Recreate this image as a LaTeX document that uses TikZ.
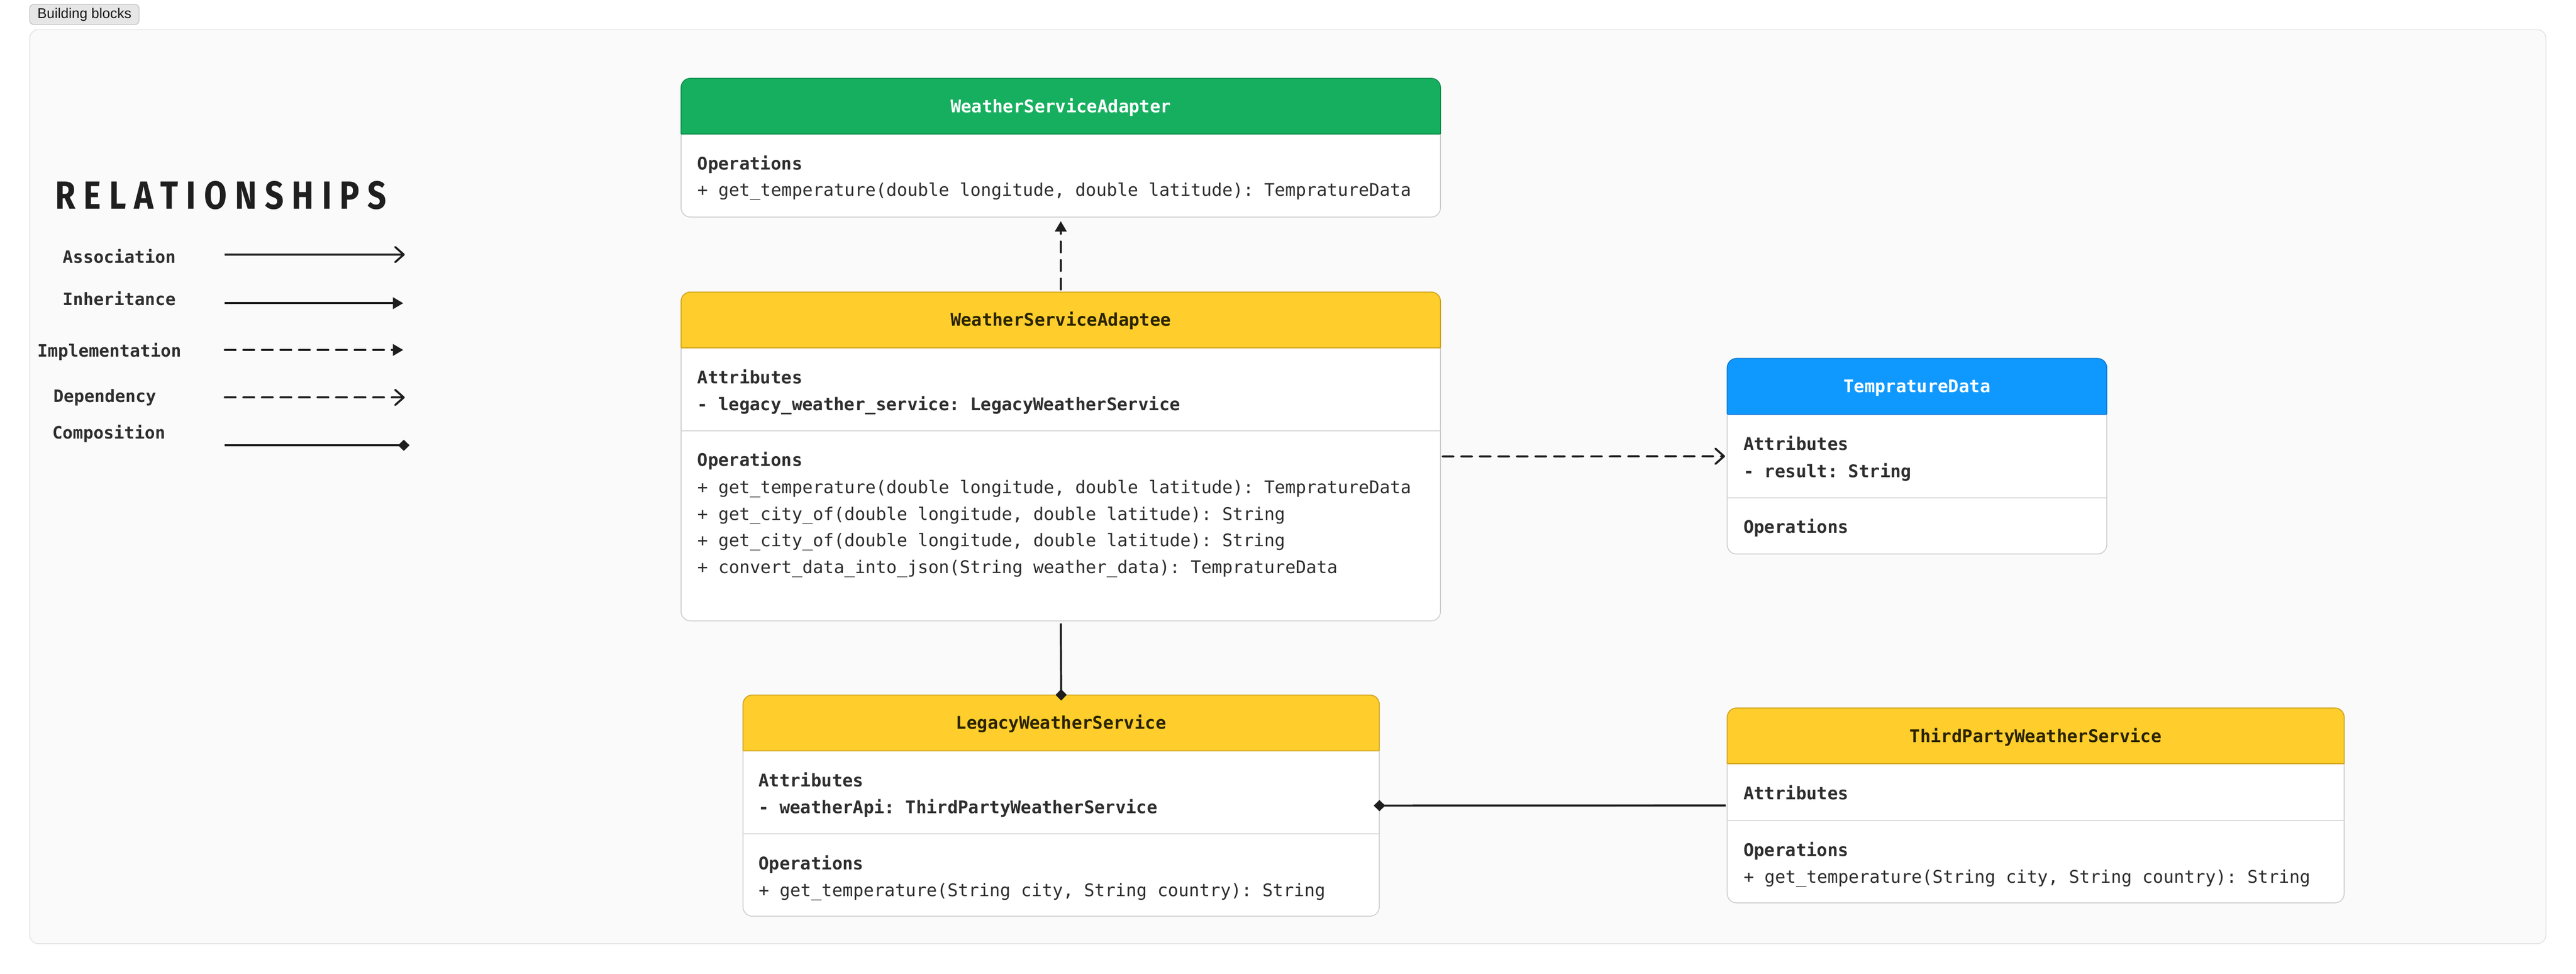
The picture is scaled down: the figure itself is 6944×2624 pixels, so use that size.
\documentclass[tikz,border=0pt]{standalone}
\usepackage{fontspec}
\setmainfont{Liberation Sans}
\setmonofont{DejaVu Sans Mono}
\newfontfamily\handfont[LetterSpace=25]{Fira Sans}
\usetikzlibrary{arrows.meta}
\definecolor{frameF}{HTML}{FAFAFA}
\definecolor{frameL}{HTML}{E3E3E3}
\definecolor{tagF}{HTML}{E6E6E6}
\definecolor{tagL}{HTML}{C4C4C4}
\definecolor{boxline}{HTML}{CFCFCF}
\definecolor{sepcol}{HTML}{D6D6D6}
\definecolor{txt}{HTML}{2E2E2E}
\definecolor{conncol}{HTML}{1E1E1E}
\definecolor{greenH}{HTML}{16AF5F}
\definecolor{greenL}{HTML}{11924E}
\definecolor{greenT}{HTML}{FFFFFF}
\definecolor{yellowH}{HTML}{FFCE2C}
\definecolor{yellowL}{HTML}{D1A521}
\definecolor{yellowT}{HTML}{2A2300}
\definecolor{blueH}{HTML}{0F99FF}
\definecolor{blueL}{HTML}{0A7CD9}
\definecolor{blueT}{HTML}{FFFFFF}
\tikzset{
  x=0.1pt, y=-0.1pt,
  classbox/.style={draw=boxline, fill=white, line width=0.25pt, rounded corners=2.5pt, inner sep=0pt, outer sep=0pt},
  monofont/.style={font=\fontsize{4.7pt}{5.6pt}\selectfont\ttfamily},
  boldmono/.style={font=\fontsize{4.7pt}{5.6pt}\selectfont\ttfamily\bfseries},
  sec/.style={boldmono, text=txt, inner sep=0pt, text height=3.4pt, text depth=0pt, anchor=west},
  attr/.style={sec},
  op/.style={monofont, text=txt, inner sep=0pt, text height=3.4pt, text depth=0pt, anchor=west},
  titletext/.style={boldmono, inner sep=0pt, text height=3.4pt, text depth=0pt},
  sepline/.style={draw=sepcol, line width=0.25pt},
  conn/.style={draw=conncol, line width=0.55pt},
  dashline/.style={dash pattern=on 2.9pt off 2.1pt, line cap=round},
  barb/.style={-{Straight Barb[round, length=2.3pt, width=4.1pt]}},
  tri/.style={-{Triangle[length=2.8pt, width=3.1pt]}},
  dia/.style={-{Diamond[length=3.1pt, width=3pt]}},
  legendlabel/.style={font=\fontsize{4.6pt}{5.5pt}\selectfont\ttfamily\bfseries, text=txt, inner sep=0pt, text height=3.4pt, text depth=0pt, anchor=west},
}
% #1 name, #2 x1, #3 y1, #4 x2, #5 y2, #6 header bottom, #7 colour prefix, #8 title
\newcommand{\umlclass}[8]{%
  \node[classbox, minimum width={(#4-#2)*0.1pt}, minimum height={(#5-#3)*0.1pt}] (#1) at ({(#2+#4)/2},{(#3+#5)/2}) {};
  \begin{scope}
    \clip[rounded corners=2.5pt] (#1.north west) rectangle (#1.south east);
    \fill[#7H] (#2,#3) rectangle (#4,#6);
  \end{scope}
  \draw[draw=#7L, line width=0.25pt, rounded corners=2.5pt] (#2,#6) -- (#2,#3) -- (#4,#3) -- (#4,#6);
  \draw[draw=#7L, line width=0.3pt] (#2,#6) -- (#4,#6);
  \node[titletext, text=#7T] (#1-title) at ({(#2+#4)/2},{(#3+#6)/2}) {#8};
}
\begin{document}
\begin{tikzpicture}
\useasboundingbox (0,0) rectangle (6944,2624);
\fill[white] (0,0) rectangle (6944,2624);

% frame and tag
\node[draw=frameL, fill=frameF, line width=0.22pt, rounded corners=2.3pt, inner sep=0pt,
      minimum width=678.3pt, minimum height=246.3pt] (frame) at (3471.5,1311.5) {};
\node[draw=tagL, fill=tagF, line width=0.2pt, rounded corners=1.1pt, inner sep=0pt,
      minimum width=29.5pt, minimum height=5.4pt, font=\fontsize{3.8pt}{4.5pt}\selectfont,
      text=black!90] (tag) at (227.5,39) {Building blocks};

% legend
\node[inner sep=0pt, text=black!88] (reltitle) at (595,527)
  {\resizebox{89.2pt}{7.5pt}{\handfont\bfseries RELATIONSHIPS}};
\node[legendlabel] (lg-assoc) at (167,692) {Association};
\node[legendlabel] (lg-inher) at (167,806) {Inheritance};
\node[legendlabel] (lg-impl) at (99,945) {Implementation};
\node[legendlabel] (lg-dep) at (142,1067) {Dependency};
\node[legendlabel] (lg-comp) at (139,1165) {Composition};
\coordinate (la1) at (606,686);  \coordinate (lb1) at (1091,686);
\coordinate (la2) at (606,817);  \coordinate (lb2) at (1087,817);
\coordinate (la3) at (606,943);  \coordinate (lb3) at (1087,943);
\coordinate (la4) at (606,1071); \coordinate (lb4) at (1091,1071);
\coordinate (la5) at (606,1200); \coordinate (lb5) at (1104,1200);
\draw[conn, barb] (la1) -- (lb1);
\draw[conn, tri] (la2) -- (lb2);
\draw[conn, dashline, tri] (la3) -- (lb3);
\draw[conn, dashline, barb] (la4) -- (lb4);
\draw[conn, dia] (la5) -- (lb5);

% classes
\umlclass{adapter}{1836}{211}{3883}{585}{361}{green}{WeatherServiceAdapter}
\node[sec] (adapter-opsh) at (1878,440) {Operations};
\node[op] (adapter-op1) at (1878,512) {+ get\_temperature(double longitude, double latitude): TempratureData};

\umlclass{adaptee}{1836}{787}{3883}{1673}{937}{yellow}{WeatherServiceAdaptee}
\draw[sepline] (1836,1161) -- (3883,1161);
\node[sec] (adaptee-atth) at (1878,1017) {Attributes};
\node[attr] (adaptee-att1) at (1878,1089) {- legacy\_weather\_service: LegacyWeatherService};
\node[sec] (adaptee-opsh) at (1878,1239) {Operations};
\node[op] (adaptee-op1) at (1878,1313) {+ get\_temperature(double longitude, double latitude): TempratureData};
\node[op] (adaptee-op2) at (1878,1385) {+ get\_city\_of(double longitude, double latitude): String};
\node[op] (adaptee-op3) at (1878,1456) {+ get\_city\_of(double longitude, double latitude): String};
\node[op] (adaptee-op4) at (1878,1528) {+ convert\_data\_into\_json(String weather\_data): TempratureData};

\umlclass{tdata}{4656}{966}{5679}{1493}{1116}{blue}{TempratureData}
\draw[sepline] (4656,1341) -- (5679,1341);
\node[sec] (tdata-atth) at (4698,1196) {Attributes};
\node[attr] (tdata-att1) at (4698,1269) {- result: String};
\node[sec] (tdata-opsh) at (4698,1420) {Operations};

\umlclass{legacy}{2003}{1873}{3718}{2469}{2023}{yellow}{LegacyWeatherService}
\draw[sepline] (2003,2247) -- (3718,2247);
\node[sec] (legacy-atth) at (2043,2103) {Attributes};
\node[attr] (legacy-att1) at (2043,2175) {- weatherApi: ThirdPartyWeatherService};
\node[sec] (legacy-opsh) at (2043,2327) {Operations};
\node[op] (legacy-op1) at (2043,2399) {+ get\_temperature(String city, String country): String};

\umlclass{third}{4656}{1908}{6319}{2433}{2058}{yellow}{ThirdPartyWeatherService}
\draw[sepline] (4656,2211) -- (6319,2211);
\node[sec] (third-atth) at (4698,2138) {Attributes};
\node[sec] (third-opsh) at (4698,2290) {Operations};
\node[op] (third-op1) at (4698,2363) {+ get\_temperature(String city, String country): String};

% connectors
\draw[conn, dashline, tri, shorten <=0.7pt, shorten >=1.1pt] (adaptee.north) -- (adapter.south);
\draw[conn, dashline, barb, shorten <=0.6pt, shorten >=0.6pt] (adaptee.east) -- (tdata.west);
\draw[conn, dia, shorten <=0.7pt, shorten >=-1.5pt] (adaptee.south) -- (legacy.north);
\draw[conn, dia, shorten <=0.4pt, shorten >=-1.5pt] (third.west) -- (legacy.east);
\end{tikzpicture}
\end{document}
